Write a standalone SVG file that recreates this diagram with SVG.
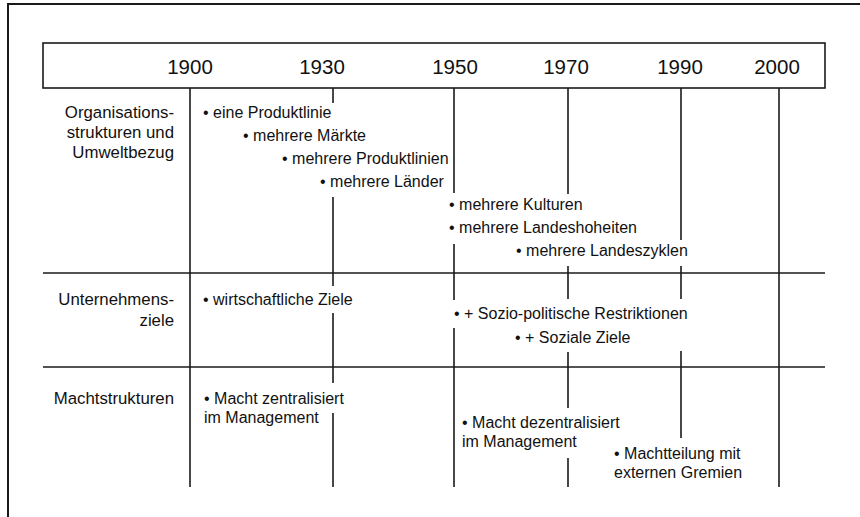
<svg xmlns="http://www.w3.org/2000/svg" width="860" height="517" viewBox="0 0 860 517">
<style>
  .frame{fill:none;stroke:#1a1a1a;stroke-width:2}
  .ln{stroke:#1a1a1a;stroke-width:1.6;fill:none}
  .yr{font-family:"Liberation Sans",Arial,sans-serif;font-size:20.5px;fill:#111;text-anchor:middle}
  .lbl{font-family:"Liberation Sans",Arial,sans-serif;font-size:16.8px;fill:#111;text-anchor:end}
  .it{font-family:"Liberation Sans",Arial,sans-serif;font-size:16px;fill:#111}
</style>
<rect x="0" y="0" width="860" height="517" fill="#ffffff"/>
<rect class="frame" x="8" y="4" width="862" height="530"/>

<g id="header">
  <rect class="ln" x="43" y="43" width="782" height="45" fill="#ffffff"/>
  <text class="yr" x="190" y="74">1900</text>
  <text class="yr" x="322" y="74">1930</text>
  <text class="yr" x="455" y="74">1950</text>
  <text class="yr" x="566" y="74">1970</text>
  <text class="yr" x="680" y="74">1990</text>
  <text class="yr" x="777" y="74">2000</text>
</g>

<g id="connectors">
  <line class="ln" x1="43" y1="273" x2="825" y2="273"/>
  <line class="ln" x1="43" y1="367" x2="825" y2="367"/>
  <line class="ln" x1="190" y1="88" x2="190" y2="487"/>
  <line class="ln" x1="333" y1="88" x2="333" y2="103"/>
  <line class="ln" x1="333" y1="197" x2="333" y2="286"/>
  <line class="ln" x1="333" y1="313" x2="333" y2="383"/>
  <line class="ln" x1="333" y1="413" x2="333" y2="487"/>
  <line class="ln" x1="454" y1="88" x2="454" y2="193"/>
  <line class="ln" x1="454" y1="244" x2="454" y2="300"/>
  <line class="ln" x1="454" y1="328" x2="454" y2="487"/>
  <line class="ln" x1="568" y1="88" x2="568" y2="194"/>
  <line class="ln" x1="568" y1="266" x2="568" y2="299"/>
  <line class="ln" x1="568" y1="352" x2="568" y2="408"/>
  <line class="ln" x1="568" y1="458" x2="568" y2="487"/>
  <line class="ln" x1="681" y1="88" x2="681" y2="240"/>
  <line class="ln" x1="681" y1="266" x2="681" y2="299"/>
  <line class="ln" x1="681" y1="351" x2="681" y2="438"/>
  <line class="ln" x1="779" y1="88" x2="779" y2="487"/>
</g>

<g id="row-organisation">
  <text class="lbl" x="174" y="118">Organisations-</text>
  <text class="lbl" x="174" y="138">strukturen und</text>
  <text class="lbl" x="174" y="158">Umweltbezug</text>
</g>
<g id="item-eine-produktlinie"><text class="it" x="203" y="118">• eine Produktlinie</text></g>
<g id="item-maerkte"><text class="it" x="243" y="141">• mehrere Märkte</text></g>
<g id="item-produktlinien"><text class="it" x="282" y="164">• mehrere Produktlinien</text></g>
<g id="item-laender"><text class="it" x="320" y="187">• mehrere Länder</text></g>
<g id="item-kulturen"><text class="it" x="449" y="210">• mehrere Kulturen</text></g>
<g id="item-landeshoheiten"><text class="it" x="449" y="233">• mehrere Landeshoheiten</text></g>
<g id="item-landeszyklen"><text class="it" x="516" y="256">• mehrere Landeszyklen</text></g>

<g id="row-ziele">
  <text class="lbl" x="174" y="305">Unternehmens-</text>
  <text class="lbl" x="174" y="326">ziele</text>
</g>
<g id="item-wirtschaftlich"><text class="it" x="203" y="305">• wirtschaftliche Ziele</text></g>
<g id="item-sozio"><text class="it" x="454" y="319">• + Sozio-politische Restriktionen</text></g>
<g id="item-soziale"><text class="it" x="515" y="343">• + Soziale Ziele</text></g>

<g id="row-macht">
  <text class="lbl" x="174" y="404">Machtstrukturen</text>
</g>
<g id="item-zentral"><text class="it" x="204" y="404">• Macht zentralisiert<tspan x="204" y="423">im Management</tspan></text></g>
<g id="item-dezentral"><text class="it" x="462" y="428">• Macht dezentralisiert<tspan x="462" y="447">im Management</tspan></text></g>
<g id="item-machtteilung"><text class="it" x="614" y="459">• Machtteilung mit<tspan x="614" y="478">externen Gremien</tspan></text></g>
</svg>
